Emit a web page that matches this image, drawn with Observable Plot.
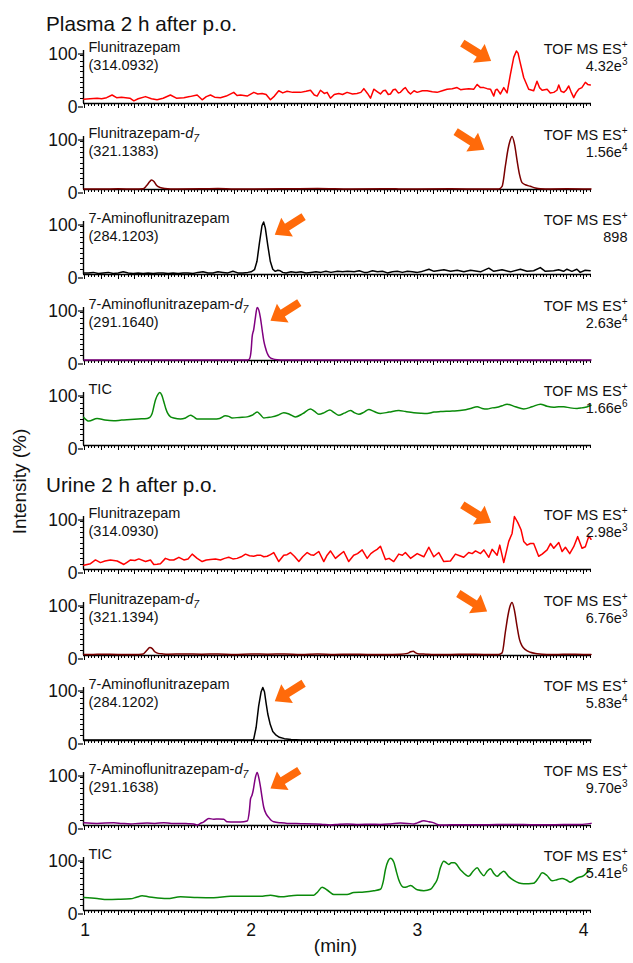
<!DOCTYPE html>
<html>
<head>
<meta charset="utf-8">
<script src="https://cdn.jsdelivr.net/npm/d3@7"></script>
<script src="https://cdn.jsdelivr.net/npm/@observablehq/plot@0.6"></script>
<style>
  html, body { margin: 0; padding: 0; background: #fff; }
  #chart { position: relative; width: 633px; height: 963px; overflow: hidden; font-family: "Liberation Sans", Arial, Helvetica, sans-serif; color: #000; }
  #chart svg.panel { position: absolute; left: 0; }
  #overlay { position: absolute; left: 0; top: 0; pointer-events: none; }
</style>
</head>
<body>
<div id="chart"></div>
<script>
// ---------------- DATA ----------------
const xDomain = [0.991, 4.048];
const xLabelTicks = [1, 2, 3, 4];

const sectionTitles = ["Plasma 2 h after p.o.", "Urine 2 h after p.o."];
const yTitle = "Intensity (%)";
const xTitle = "(min)";

const compoundNames = ["Flunitrazepam", "Flunitrazepam-<i>d</i><sub>7</sub>", "7-Aminoflunitrazepam", "7-Aminoflunitrazepam-<i>d</i><sub>7</sub>", "TIC"];
const plasmaMz = ["(314.0932)", "(321.1383)", "(284.1203)", "(291.1640)", ""];
const urineMz = ["(314.0930)", "(321.1394)", "(284.1202)", "(291.1638)", ""];
const modeLabel = "TOF MS ES<sup>+</sup>";
const plasmaScale = ["4.32e<sup>3</sup>", "1.56e<sup>4</sup>", "898", "2.63e<sup>4</sup>", "1.66e<sup>6</sup>"];
const urineScale = ["2.98e<sup>3</sup>", "6.76e<sup>3</sup>", "5.83e<sup>4</sup>", "9.70e<sup>3</sup>", "5.41e<sup>6</sup>"];
const traceColors = ["#ff0000", "#7a0000", "#000000", "#800080", "#0a8a0a"];

// arrow tips: [time (min), intensity (%), direction]
const plasmaArrows = [[3.444, 80, "right"], [3.404, 75, "right"], [2.142, 75, "left"], [2.116, 75, "left"], null];
const urineArrows = [[3.444, 88, "right"], [3.42, 83, "right"], [2.142, 74, "left"], [2.116, 70, "left"], null];

// chromatogram traces: [time (min), relative intensity (%)]
const plasmaFlu = [[0.993,8],[1.03,9],[1.073,10],[1.10,9],[1.13,11],[1.163,16],[1.19,11],[1.22,12],[1.244,11],[1.27,10],[1.294,5],[1.32,9],[1.364,13],[1.40,9],[1.434,7],[1.47,10],[1.514,16],[1.55,10],[1.595,11],[1.63,13],[1.675,16],[1.705,7],[1.73,13],[1.755,16],[1.78,12],[1.815,11],[1.85,14],[1.895,21],[1.915,15],[1.936,16],[1.976,14],[2.016,21],[2.04,18],[2.066,19],[2.09,17],[2.116,7],[2.14,14],[2.166,24],[2.19,20],[2.216,23],[2.25,21],[2.297,21],[2.33,23],[2.357,25],[2.38,16],[2.397,14],[2.417,25],[2.44,19],[2.457,21],[2.477,10],[2.50,17],[2.527,19],[2.55,17],[2.577,21],[2.61,18],[2.637,19],[2.66,21],[2.678,28],[2.70,19],[2.718,10],[2.738,27],[2.76,22],[2.778,18],[2.795,24],[2.808,25],[2.825,17],[2.838,18],[2.855,26],[2.868,27],[2.885,20],[2.898,21],[2.915,27],[2.928,30],[2.945,22],[2.959,18],[2.98,24],[2.999,21],[3.03,24],[3.059,24],[3.09,22],[3.119,21],[3.15,24],[3.179,27],[3.21,28],[3.239,30],[3.26,26],[3.279,27],[3.31,28],[3.34,27],[3.36,36],[3.38,30],[3.40,30],[3.42,28],[3.44,27],[3.46,14],[3.47,25],[3.48,27],[3.50,18],[3.52,30],[3.54,20],[3.56,55],[3.58,87],[3.596,99],[3.606,95],[3.616,81],[3.64,49],[3.67,27],[3.70,24],[3.72,42],[3.735,30],[3.751,25],[3.781,27],[3.80,20],[3.821,21],[3.84,25],[3.851,35],[3.865,23],[3.881,21],[3.895,25],[3.911,33],[3.925,22],[3.941,11],[3.955,20],[3.971,27],[3.99,30],[4.011,40],[4.025,36],[4.041,35]];

const plasmaFluD7 = [[0.993,1],[1.1,1],[1.2,1.2],[1.3,1],[1.35,1.5],[1.37,7],[1.39,15],[1.40,18],[1.415,15],[1.43,8],[1.45,4],[1.48,2],[1.55,1],[1.7,1.2],[1.8,2],[1.9,1],[2.0,1],[2.2,1.2],[2.4,2],[2.6,1],[2.8,1.3],[3.0,1],[3.2,1.2],[3.4,1],[3.49,1],[3.51,6],[3.53,45],[3.545,75],[3.556,90],[3.57,100],[3.585,85],[3.60,55],[3.615,28],[3.63,13],[3.65,9],[3.68,6],[3.71,3],[3.74,1.5],[3.8,1],[3.9,1.2],[4.0,1],[4.045,1]];

const plasmaAmino = [[0.993,3],[1.02,3],[1.05,4],[1.08,2],[1.11,3],[1.14,4],[1.17,2],[1.2,3],[1.23,5],[1.26,3],[1.29,2],[1.32,3],[1.35,2],[1.38,3],[1.41,2],[1.44,3],[1.47,3],[1.5,2],[1.53,3],[1.56,2],[1.59,3],[1.62,3],[1.65,2],[1.68,4],[1.71,5],[1.74,3],[1.77,3],[1.80,5],[1.83,4],[1.86,3],[1.89,6],[1.92,3],[1.95,3],[1.98,4],[2.00,5],[2.02,9],[2.035,25],[2.05,60],[2.065,92],[2.075,99],[2.085,88],[2.10,55],[2.115,25],[2.13,10],[2.145,6],[2.16,8],[2.175,7],[2.19,4],[2.21,3],[2.24,5],[2.27,4],[2.30,5],[2.33,3],[2.36,4],[2.39,5],[2.42,4],[2.45,6],[2.48,4],[2.52,6],[2.55,5],[2.58,6],[2.62,5],[2.65,7],[2.68,4],[2.70,4],[2.73,7],[2.76,5],[2.79,6],[2.82,3],[2.85,5],[2.88,6],[2.91,4],[2.94,6],[2.97,5],[3.00,4],[3.02,5],[3.07,10],[3.10,6],[3.16,9],[3.20,6],[3.24,8],[3.28,5],[3.32,8],[3.38,5],[3.43,12],[3.46,6],[3.51,9],[3.56,5],[3.62,10],[3.66,6],[3.70,7],[3.74,13],[3.77,6],[3.82,7],[3.85,9],[3.88,6],[3.90,10],[3.93,6],[3.96,10],[3.98,4],[4.01,8],[4.04,7]];

const plasmaAminoD7 = [[0.993,1],[1.5,1],[1.98,1],[1.99,3],[2.0,20],[2.006,45],[2.015,58],[2.025,80],[2.036,100],[2.046,95],[2.056,80],[2.066,58],[2.076,37],[2.086,24],[2.096,14],[2.106,8],[2.116,5],[2.13,3],[2.156,1.5],[2.2,1],[3.0,1],[4.045,1]];

const plasmaTIC = [[0.993,53],[1.023,46],[1.073,51],[1.12,48],[1.173,46.5],[1.22,48],[1.274,49],[1.32,50],[1.374,51],[1.39,53],[1.404,60.5],[1.424,86],[1.44,97],[1.45,100],[1.462,95],[1.474,83],[1.486,70],[1.498,60.5],[1.515,54],[1.534,52],[1.575,50],[1.605,52],[1.635,57],[1.655,54],[1.675,50],[1.72,50],[1.775,50],[1.81,51],[1.845,56],[1.865,55],[1.885,52],[1.93,53],[1.976,54],[2.005,57],[2.036,63],[2.056,58],[2.076,52],[2.10,53],[2.126,54],[2.16,57],[2.196,62],[2.23,59],[2.266,54],[2.31,60],[2.357,69],[2.38,65],[2.407,59],[2.44,62],[2.473,67],[2.50,62],[2.527,57],[2.56,61],[2.598,66],[2.62,62],[2.648,59],[2.68,63],[2.708,68],[2.74,64],[2.778,60.5],[2.83,63],[2.888,66],[2.93,64],[2.979,62],[3.02,61],[3.059,60.5],[3.10,63],[3.139,64],[3.21,65],[3.279,67],[3.32,70],[3.36,73],[3.39,70],[3.42,69],[3.45,71],[3.48,72],[3.51,75],[3.54,78],[3.59,73],[3.64,69],[3.69,73],[3.741,78],[3.78,74],[3.821,72],[3.851,73],[3.881,73],[3.92,71],[3.961,70],[3.99,71],[4.011,72],[4.03,74],[4.045,76]];

const urineFlu = [[0.993,8],[1.033,11],[1.063,18],[1.093,13],[1.12,16],[1.153,18],[1.194,16],[1.234,9.5],[1.255,14],[1.274,18],[1.30,17],[1.324,20],[1.364,15],[1.394,18],[1.414,9.5],[1.434,10],[1.454,11],[1.484,21],[1.51,18],[1.534,18],[1.565,23],[1.595,18],[1.62,20],[1.645,29],[1.675,21],[1.705,15],[1.73,18],[1.755,19],[1.785,20],[1.815,18],[1.84,21],[1.865,23],[1.89,20],[1.915,21],[1.94,24],[1.966,29],[1.99,26],[2.016,25],[2.036,27],[2.056,27],[2.076,24],[2.096,25],[2.116,28],[2.136,32],[2.166,15],[2.196,27],[2.216,28],[2.236,32],[2.26,25],[2.287,15],[2.31,24],[2.337,32],[2.357,28],[2.377,27],[2.407,34],[2.437,15],[2.457,27],[2.477,35],[2.507,21],[2.53,27],[2.557,34],[2.587,15],[2.617,27],[2.64,30],[2.668,37],[2.698,21],[2.72,30],[2.738,34],[2.758,38],[2.778,44],[2.808,19],[2.83,21],[2.858,15],[2.888,29],[2.91,27],[2.928,32],[2.959,21],[2.999,30],[3.039,24],[3.069,42],[3.099,24],[3.129,32],[3.159,15],[3.199,16],[3.229,29],[3.255,26],[3.279,23],[3.309,32],[3.33,30],[3.35,35],[3.38,30],[3.40,37],[3.43,23],[3.45,38],[3.48,27],[3.496,46],[3.52,13],[3.55,53],[3.57,68],[3.584,100],[3.604,89],[3.624,75],[3.64,53],[3.66,46],[3.68,49],[3.70,49],[3.73,25],[3.751,29],[3.781,37],[3.801,49],[3.821,40],[3.851,51],[3.871,34],[3.891,42],[3.917,30],[3.941,43],[3.965,62],[3.991,40],[4.011,43],[4.032,63],[4.045,57]];

const urineFluD7 = [[0.993,2],[1.05,2],[1.1,2.5],[1.2,2],[1.3,2],[1.35,3],[1.37,9],[1.39,15],[1.405,13],[1.42,7],[1.44,4],[1.47,3],[1.5,2.5],[1.6,3],[1.7,2.5],[1.8,3],[1.9,2],[2.0,3],[2.1,2.5],[2.2,3],[2.3,2],[2.4,3],[2.5,2],[2.6,2.5],[2.7,2],[2.8,2],[2.9,2.5],[2.94,4],[2.96,7],[2.975,8],[2.99,5],[3.01,3],[3.05,2.5],[3.1,2],[3.2,2],[3.3,2.5],[3.4,2],[3.49,2],[3.51,5],[3.53,45],[3.545,75],[3.555,90],[3.57,100],[3.585,84],[3.60,55],[3.615,30],[3.63,18],[3.65,11],[3.68,6],[3.72,3.5],[3.78,2],[3.85,2],[3.9,2.5],[4.0,2],[4.045,2]];

const urineAmino = [[0.993,1],[1.2,1],[1.4,1],[1.6,1],[1.8,1],[2.0,1],[2.015,2],[2.03,25],[2.045,65],[2.06,92],[2.07,100],[2.08,92],[2.09,70],[2.10,50],[2.115,30],[2.13,17],[2.15,10],[2.17,6],[2.2,3.5],[2.24,2],[2.3,1],[2.5,1],[3.0,1],[3.5,1],[4.045,1]];

const urineAminoD7 = [[0.993,5],[1.073,4],[1.173,5],[1.22,4],[1.274,3],[1.32,4],[1.374,4.5],[1.42,4],[1.474,5],[1.52,4],[1.575,4],[1.62,3.5],[1.655,3],[1.675,0.8],[1.695,4],[1.715,7],[1.745,13],[1.775,12],[1.805,12.5],[1.835,12],[1.855,7],[1.90,6.5],[1.936,6.5],[1.976,8.4],[1.99,30],[1.996,50],[2.005,57],[2.012,66],[2.025,90],[2.036,100],[2.046,90],[2.056,73],[2.066,52],[2.076,34],[2.09,22],[2.106,15],[2.12,10],[2.136,7],[2.18,5],[2.216,4],[2.30,3.5],[2.377,3],[2.42,2.5],[2.477,0.8],[2.53,2.5],[2.577,3],[2.65,2],[2.72,2.5],[2.778,2],[2.84,3],[2.898,4.5],[2.94,4],[2.979,3],[3.00,5],[3.039,9],[3.07,7],[3.099,5],[3.12,2],[3.139,0.8],[3.20,1.3],[3.30,1.5],[3.38,1.3],[3.48,2],[3.58,2],[3.68,1.5],[3.781,1.3],[3.88,2],[3.981,2],[4.045,4]];

const urineTIC = [[0.993,24.5],[1.073,22.6],[1.133,20.6],[1.20,21],[1.274,22],[1.31,25],[1.344,27.7],[1.38,26],[1.414,24.5],[1.494,22.6],[1.575,25.8],[1.675,24.5],[1.775,24],[1.875,27],[1.976,27],[2.056,27],[2.116,29],[2.176,25.8],[2.277,29],[2.377,29],[2.40,35],[2.427,44],[2.457,38.7],[2.497,30.3],[2.577,30.3],[2.617,34],[2.68,35],[2.738,37.4],[2.778,40],[2.795,55],[2.808,77.4],[2.825,94],[2.838,98.7],[2.858,91.6],[2.875,72],[2.888,58],[2.918,44],[2.94,45],[2.959,47],[2.999,39],[3.039,37.4],[3.079,40],[3.10,48],[3.119,58],[3.14,82],[3.159,93],[3.175,90],[3.189,87],[3.205,90],[3.223,90],[3.259,77],[3.309,64.5],[3.335,74],[3.36,80.6],[3.38,72],[3.40,65.8],[3.42,74],[3.44,78.7],[3.46,70],[3.48,64.5],[3.50,70],[3.52,74],[3.55,64],[3.58,56.8],[3.64,50.3],[3.70,51.6],[3.73,62],[3.751,71],[3.78,66],[3.811,56],[3.84,58],[3.871,60.6],[3.90,57],[3.921,53.5],[3.961,61.3],[4.001,65.8],[4.041,78.7]];

const plasmaTraces = [plasmaFlu, plasmaFluD7, plasmaAmino, plasmaAminoD7, plasmaTIC];
const urineTraces = [urineFlu, urineFluD7, urineAmino, urineAminoD7, urineTIC];
const noisy = [true, false, true, false, false];

// ---------------- DRAWING ----------------
const FONT = '"Liberation Sans", Arial, Helvetica, sans-serif';
const ORANGE = "#ff6a0a";
const xMinor = d3.range(50, 203).map(i => i / 50);
const xMajor = d3.range(10, 41).map(i => i / 10);
const yMinor = d3.range(1, 10).map(i => i * 10);

const blockArrow = {
  draw(ctx, l) {
    const h = 14.5, hw = 11, sw = 4;
    ctx.moveTo(-sw, 0);
    ctx.lineTo(-sw, h - l);
    ctx.lineTo(-hw, h - l);
    ctx.lineTo(0, -l);
    ctx.lineTo(hw, h - l);
    ctx.lineTo(sw, h - l);
    ctx.lineTo(sw, 0);
    ctx.closePath();
  }
};

function richify(svg) {
  svg.querySelectorAll("text").forEach(t => {
    const s = t.textContent;
    if (!/<(sup|sub|i)>/.test(s)) return;
    while (t.firstChild) t.removeChild(t.firstChild);
    const re = /<(sup|sub|i)>(.*?)<\/\1>/g;
    let last = 0, m, shift = 0;
    const add = (txt, kind) => {
      const ts = document.createElementNS("http://www.w3.org/2000/svg", "tspan");
      ts.textContent = txt;
      let target = 0;
      if (kind === "sup") { ts.setAttribute("font-size", "10px"); target = -5.5; }
      if (kind === "sub") { ts.setAttribute("font-size", "10.5px"); ts.setAttribute("font-style", "italic"); target = 3.5; }
      if (kind === "i") ts.setAttribute("font-style", "italic");
      if (target !== shift) { ts.setAttribute("dy", target - shift); shift = target; }
      t.appendChild(ts);
    };
    while ((m = re.exec(s))) {
      if (m.index > last) add(s.slice(last, m.index), null);
      add(m[2], m[1]);
      last = re.lastIndex;
    }
    if (last < s.length) add(s.slice(last), null);
  });
}

function drawPanel(trace, color, name, mz, scaleTxt, arrow, isNoisy, isLast) {
  const mt = 24, ph = 53, mb = isLast ? 50 : 8;
  const tickStyle = {fill: "none", stroke: "#000", strokeWidth: 1, label: null, shapeRendering: "crispEdges"};
  const marks = [
    Plot.axisX({ticks: xMinor, tickSize: 3, ...tickStyle}),
    Plot.axisX({ticks: xMajor, tickSize: 4.5, ...tickStyle}),
    Plot.axisY({ticks: yMinor, tickSize: 3, ...tickStyle}),
    Plot.axisY({ticks: [0, 100], tickSize: 5, tickPadding: 1, fontSize: 17.5, dy: 3.5, fill: "#111", stroke: "#000", strokeWidth: 1.2, label: null}),
    Plot.ruleY([0], {stroke: "#000", strokeWidth: 1.4}),
    Plot.ruleX([xDomain[0]], {y1: 0, y2: 100, stroke: "#000", strokeWidth: 1.4}),
    Plot.line(trace, {x: d => d[0], y: d => d[1], stroke: color, strokeWidth: 1.5, curve: isNoisy ? "linear" : "monotone-x"}),
    Plot.text([name], {frameAnchor: "top-left", textAnchor: "start", lineAnchor: "bottom", dx: 5, dy: 1.5, fontSize: 14.5, fill: "#111", text: d => d}),
    Plot.text([modeLabel], {frameAnchor: "top-right", textAnchor: "end", lineAnchor: "bottom", dx: 36, dy: 3, fontSize: 14.5, fill: "#111", text: d => d}),
    Plot.text([scaleTxt], {frameAnchor: "top-right", textAnchor: "end", lineAnchor: "bottom", dx: 36, dy: 20, fontSize: 14.5, fill: "#111", text: d => d})
  ];
  if (mz) marks.push(Plot.text([mz], {frameAnchor: "top-left", textAnchor: "start", lineAnchor: "bottom", dx: 5, dy: 19.5, fontSize: 14.5, fill: "#111", text: d => d}));
  if (arrow) marks.push(Plot.vector([arrow], {x: d => d[0], y: d => d[1], length: 34, rotate: d => d[2] === "right" ? 122 : 238, anchor: "end", shape: blockArrow, fill: ORANGE, stroke: "none"}));
  if (isLast) {
    marks.push(Plot.axisX({ticks: xLabelTicks, tickSize: 0, tickPadding: 12.6, tickFormat: d => String(d), fontSize: 17.5, fill: "#111", label: null}));
    marks.push(Plot.text([xTitle], {frameAnchor: "bottom", lineAnchor: "bottom", dy: 41, dx: -2, fontSize: 19, fill: "#111", text: d => d}));
  }
  const svg = Plot.plot({
    width: 633, height: mt + ph + mb,
    marginLeft: 83, marginRight: 42, marginTop: mt, marginBottom: mb,
    x: {domain: xDomain},
    y: {domain: [0, 100]},
    style: {fontFamily: FONT, fontSize: "14.5px", background: "transparent", overflow: "visible", color: "#000"},
    marks
  });
  svg.classList.add("panel");
  richify(svg);
  return svg;
}

const chart = document.getElementById("chart");
const sections = [
  {traces: plasmaTraces, mz: plasmaMz, scale: plasmaScale, arrows: plasmaArrows, base0: 103, step: 85.5},
  {traces: urineTraces, mz: urineMz, scale: urineScale, arrows: urineArrows, base0: 569.3, step: 85.2}
];
sections.forEach((sec, s) => {
  sec.traces.forEach((tr, i) => {
    const isLast = s === 1 && i === 4;
    const svg = drawPanel(tr, traceColors[i], compoundNames[i], sec.mz[i], sec.scale[i], sec.arrows[i], noisy[i], isLast);
    const baseline = sec.base0 + sec.step * i;
    svg.style.top = (baseline - 77) + "px";
    chart.appendChild(svg);
  });
});

// overlay: section titles and y title
const overlay = d3.select(chart).append("svg")
  .attr("id", "overlay").attr("width", 633).attr("height", 963)
  .style("font-family", FONT);
overlay.selectAll("text.title").data(sectionTitles).join("text")
  .attr("class", "title")
  .attr("x", 46)
  .attr("y", (d, i) => i === 0 ? 30.5 : 492)
  .attr("font-size", 20.7)
  .attr("fill", "#111")
  .text(d => d);
overlay.append("text")
  .attr("transform", "translate(26.3,481.5) rotate(-90)")
  .attr("text-anchor", "middle")
  .attr("font-size", 19)
  .attr("fill", "#111")
  .text(yTitle);
</script>
</body>
</html>
